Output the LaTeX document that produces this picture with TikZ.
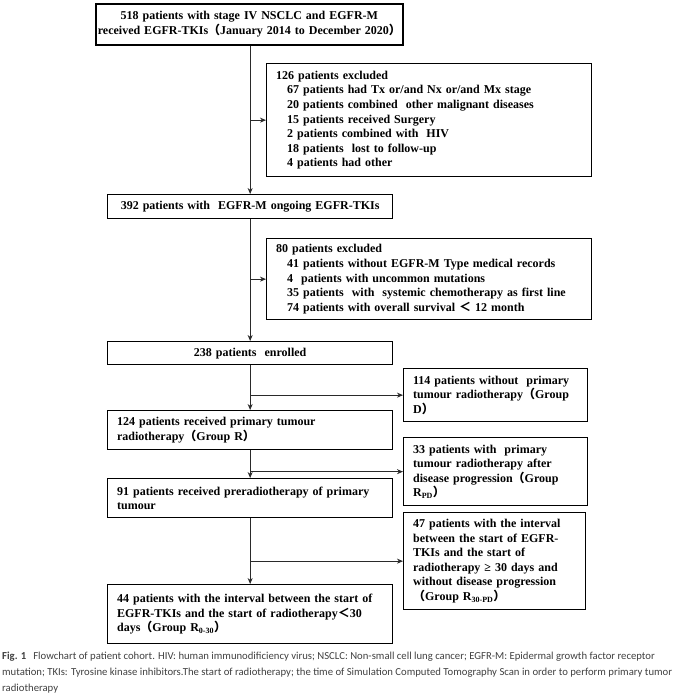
\documentclass[tikz,border=0pt]{standalone}
\usepackage{fontspec}
\setmainfont{Liberation Serif}
\newfontfamily\cjk{Noto Sans CJK SC}
\newfontfamily\capfont{Carlito}
\usetikzlibrary{arrows.meta}
\newcommand{\fwlp}{{\cjk （}}
\newcommand{\fwrp}{{\cjk ）}}
\newcommand{\fwlt}{{\cjk ＜}}
\newcommand{\sub}[1]{\textsubscript{\fontsize{8}{8}\selectfont #1}}
\definecolor{linec}{HTML}{2A2A2A}
\definecolor{capc}{HTML}{404040}
\tikzset{
  boxbase/.style={draw=black, line width=1.3pt, inner ysep=0pt, anchor=north west,
    font=\bfseries\fontsize{12}{14.6}\selectfont},
  lbox/.style={boxbase, inner xsep=9.5pt, align=left},
  cbox/.style={boxbase, inner xsep=4pt, align=center},
  arr/.style={draw=linec, line width=0.8pt, -{Stealth[length=6pt,width=5pt]}},
  capline/.style={anchor=base west, inner sep=0pt, text=capc,
    font=\capfont\fontsize{10.7}{13}\selectfont}
}
\begin{document}
\begin{tikzpicture}[x=1pt,y=-1pt]
\useasboundingbox (0,0) rectangle (685,696);
% main column
\node[cbox, line width=1.7pt, inner xsep=0.5pt, minimum width=307pt, minimum height=41pt, text width=306pt,
  font=\bfseries\fontsize{12}{15.5}\selectfont] (b1) at (95,3)
  {518 patients with stage IV NSCLC and EGFR-M\\received EGFR-TKIs\fwlp January 2014 to December 2020\fwrp};
\node[cbox, minimum width=285pt, minimum height=24pt, text width=277pt] (b2) at (107,194)
  {392 patients with\ \ EGFR-M ongoing EGFR-TKIs};
\node[lbox, minimum width=325pt, minimum height=113pt, text width=306pt] (b3) at (266,63)
  {126 patients excluded\\
  \hspace*{11pt}67 patients had Tx or/and Nx or/and Mx stage\\
  \hspace*{11pt}20 patients combined\ \ other malignant diseases\\
  \hspace*{11pt}15 patients received Surgery\\
  \hspace*{11pt}2 patients combined with\ \ HIV\\
  \hspace*{11pt}18 patients\ \ lost to follow-up\\
  \hspace*{11pt}4 patients had other};
\node[lbox, minimum width=325pt, minimum height=81pt, text width=306pt] (b4) at (266,238)
  {80 patients excluded\\
  \hspace*{11pt}41 patients without EGFR-M Type medical records\\
  \hspace*{11pt}4\ \ patients with uncommon mutations\\
  \hspace*{11pt}35 patients\ \ with\ \ systemic chemotherapy as first line\\
  \hspace*{11pt}74 patients with overall survival \fwlt\ 12 month};
\node[cbox, minimum width=285pt, minimum height=23pt, text width=277pt] (b5) at (107,341)
  {238 patients\ \ enrolled};
\node[lbox, minimum width=285pt, minimum height=39pt, text width=266pt] (b6) at (107,410)
  {124 patients received primary tumour\\radiotherapy\fwlp Group R\fwrp};
\node[lbox, minimum width=285pt, minimum height=39pt, text width=266pt] (b7) at (107,478)
  {91 patients received preradiotherapy of primary\\tumour};
\node[lbox, minimum width=285pt, minimum height=59pt, text width=266pt] (b8) at (107,584)
  {44 patients with the interval between the start of\\EGFR-TKIs and the start of radiotherapy\fwlt 30\\days\fwlp Group R\sub{0-30}\fwrp};
% right column
\node[lbox, minimum width=184pt, minimum height=53pt, text width=165pt] (r1) at (403,368)
  {114 patients without\ \ primary\\tumour radiotherapy\fwlp Group\\D\fwrp};
\node[lbox, minimum width=184pt, minimum height=68pt, text width=165pt] (r2) at (403,437)
  {33 patients with\ \ primary\\tumour radiotherapy after\\disease progression\fwlp Group\\R\sub{PD}\fwrp};
\node[lbox, minimum width=182pt, minimum height=97pt, text width=163pt] (r3) at (403,512)
  {47 patients with the interval\\between the start of EGFR-\\TKIs and the start of\\radiotherapy ≥ 30 days and\\without disease progression\\\fwlp Group R\sub{30-PD}\fwrp};
% connectors
\draw[arr] (b1.south -| b2.north) -- (b2.north);
\draw[arr] (b3.west -| b2.north) -- (b3.west);
\draw[arr] (b2.south) -- (b5.north);
\draw[arr] (b4.west -| b2.north) -- (b4.west);
\draw[arr] (b5.south) -- (b6.north -| b5.south);
\draw[arr] (r1.west -| b5.south) -- (r1.west);
\draw[arr] (b6.south -| b5.south) -- (b7.north -| b5.south);
\draw[arr] (r2.west -| b5.south) -- (r2.west);
\draw[arr] (b7.south -| b5.south) -- (b8.north -| b5.south);
\draw[arr] (r3.west -| b5.south) -- (r3.west);
% caption
\node[capline] (c1) at (2,659) {{\bfseries Fig. 1}\hspace{7pt}Flowchart of patient cohort. HIV: human immunodificiency virus; NSCLC: Non-small cell lung cancer; EGFR-M: Epidermal growth factor receptor};
\node[capline] (c2) at (2,675) {mutation; TKIs: Tyrosine kinase inhibitors.The start of radiotherapy; the time of Simulation Computed Tomography Scan in order to perform primary tumor};
\node[capline] (c3) at (2,691) {radiotherapy};
\end{tikzpicture}
\end{document}
